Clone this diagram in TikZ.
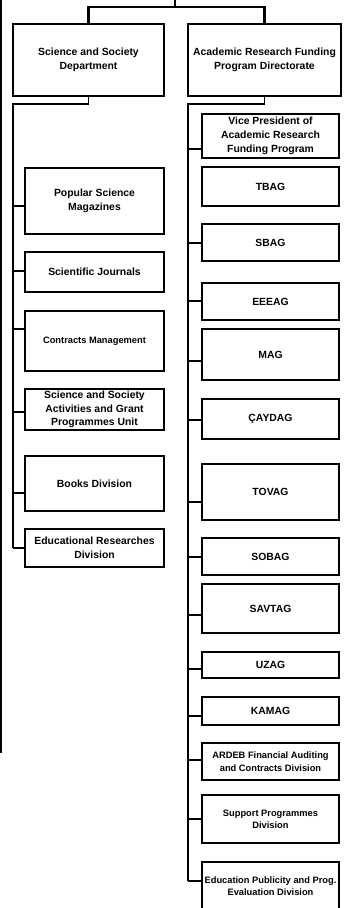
\documentclass[tikz,border=0pt]{standalone}
\usepackage{fontspec}
\setmainfont{Liberation Sans}
\begin{document}
\begin{tikzpicture}[x=1pt, y=-1pt,
    unit/.style={draw, line width=1.3pt, inner sep=0pt, align=center},
    normaltext/.style={font=\bfseries\fontsize{10.4}{13.7}\selectfont},
    smalltext/.style={font=\bfseries\fontsize{9.3}{12.4}\selectfont},
    link/.style={line width=1.2pt},
    trunk/.style={line width=2.7pt}]
    \useasboundingbox (0,0) rectangle (347,908);
    \clip (0,0) rectangle (347,908);

    % Top level
    \node[unit, normaltext, minimum width=151pt, minimum height=72pt] (ssd) at (88.5,60) {Science and Society\\Department};
    \node[unit, normaltext, minimum width=153pt, minimum height=72pt] (ard) at (264.5,60) {Academic Research Funding\\Program Directorate};
    \coordinate (top) at (175,0);
    \coordinate (bar) at (175,7);
    \draw[trunk] (ssd.north) |- (bar) -| (ard.north);
    \draw[trunk] (top) -- (bar);
    \draw[line width=2.5pt] (1.2,0) -- (1.2,753);

    % Science and Society units
    \coordinate (lbus) at (13,104);
    \draw[link] (ssd.south) |- (lbus) -- (lbus |- 0,548);
    \foreach \n/\y/\h/\b/\s/\t in {
        pop/201/66/206/normaltext/{Popular Science\\Magazines},
        sj/272/40/271/normaltext/{Scientific Journals},
        cm/341/60/329/smalltext/{Contracts Management},
        ssa/409.5/41/412/normaltext/{Science and Society\\Activities and Grant\\Programmes Unit},
        bd/483.5/55/493/normaltext/{Books Division},
        erd/548/38/548/normaltext/{Educational Researches\\Division}} {
        \node[unit, \s, minimum width=139pt, minimum height=\h pt] (\n) at (94.5,\y) {\t};
        \draw[link] (lbus |- 0,\b) -- (\n.west |- 0,\b);
    }

    % Research funding units
    \coordinate (rbus) at (188,104);
    \draw[link] (ard.south) |- (rbus) -- (rbus |- 0,881);
    \node[unit, normaltext, minimum width=137pt, minimum height=39pt] (tbag) at (270.5,186.5) {TBAG};
    \foreach \n/\y/\h/\b/\s/\t in {
        vp/136/44/149/normaltext/{Vice President of\\Academic Research\\Funding Program},
        sbag/242.5/37/243/normaltext/{SBAG},
        eeeag/301.5/37/301/normaltext/{EEEAG},
        mag/354.5/51/361/normaltext/{MAG},
        caydag/419/40/420/normaltext/{ÇAYDAG},
        tovag/492/56/502/normaltext/{TOVAG},
        sobag/556.5/37/557/normaltext/{SOBAG},
        savtag/608.5/49/615/normaltext/{SAVTAG},
        uzag/665/26/669/normaltext/{UZAG},
        kamag/711/28/716/normaltext/{KAMAG},
        ardeb/761.5/37/760/smalltext/{ARDEB Financial Auditing\\and Contracts Division},
        spd/819/48/819/smalltext/{Support Programmes\\Division},
        epe/886/48/881/smalltext/{Education Publicity and Prog.\\Evaluation Division}} {
        \node[unit, \s, minimum width=137pt, minimum height=\h pt] (\n) at (270.5,\y) {\t};
        \draw[link] (rbus |- 0,\b) -- (\n.west |- 0,\b);
    }
\end{tikzpicture}
\end{document}
